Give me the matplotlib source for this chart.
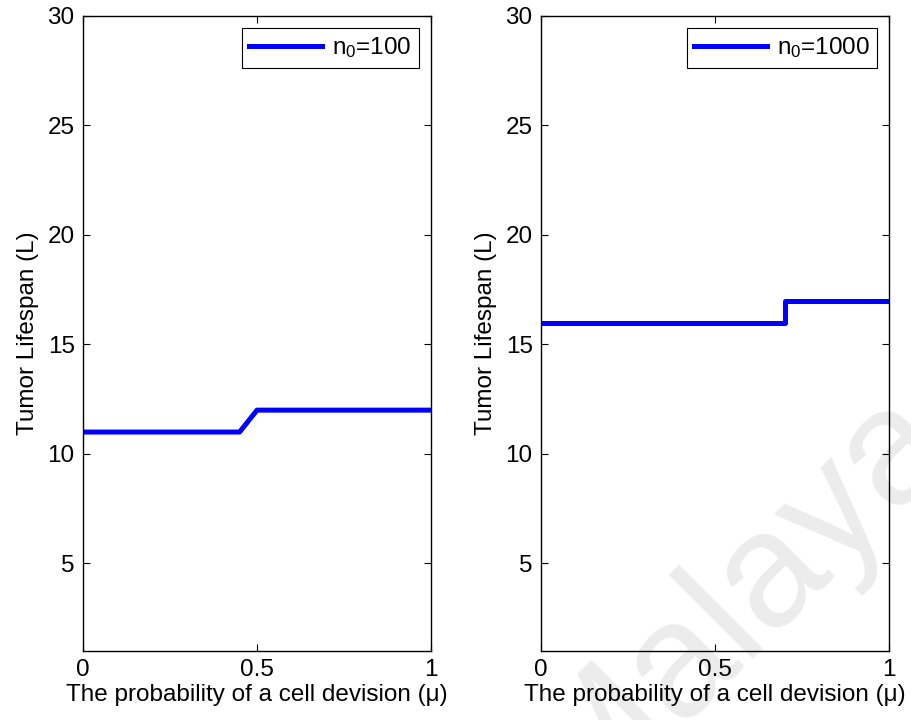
import matplotlib
matplotlib.use("Agg")
import matplotlib.pyplot as plt

plt.rcParams['font.family'] = ['Liberation Sans', 'DejaVu Sans']
plt.rcParams['mathtext.fontset'] = 'custom'
plt.rcParams['mathtext.rm'] = 'Liberation Sans'
plt.rcParams['mathtext.it'] = 'Liberation Sans'

mu_left = [0, 0.45, 0.5, 1]
L_left = [11, 11, 12, 12]
mu_right = [0, 0.7, 0.7, 1]
L_right = [16, 16, 17, 17]
labels = ['n$_\\mathrm{0}$=100', 'n$_\\mathrm{0}$=1000']
xticks = [0, 0.5, 1]
yticks = [5, 10, 15, 20, 25, 30]

W, H = 912, 720
fig = plt.figure(figsize=(W/100, H/100), dpi=100)
fs = 17.5

def px_axes(x0, x1, y0, y1):
    return fig.add_axes([x0/W, 1 - y1/H, (x1 - x0)/W, (y1 - y0)/H])

ax1 = px_axes(83, 431, 16, 651)
ax2 = px_axes(541, 889, 16, 651)

for ax, x, y, lab in [(ax1, mu_left, L_left, labels[0]), (ax2, mu_right, L_right, labels[1])]:
    ax.set_facecolor('none')
    ax.plot(x, y, color='#0000ff', lw=3.6, label=lab, solid_joinstyle='round')
    ax.set_xlim(0, 1)
    ax.set_ylim(1, 30)
    ax.set_xticks(xticks)
    ax.set_xticklabels(['0', '0.5', '1'])
    ax.set_yticks(yticks)
    ax.tick_params(direction='in', length=5, width=0.8, labelsize=fs, top=True, right=True, pad=6)
    for s in ax.spines.values():
        s.set_linewidth(1.0)
    ax.set_xlabel('The probability of a cell devision (μ)', fontsize=fs, labelpad=2)
    ax.set_ylabel('Tumor Lifespan (L)', fontsize=fs, labelpad=6)
    leg = ax.legend(loc='upper right', fontsize=fs, fancybox=False, edgecolor='black',
                    framealpha=1, handlelength=3.0, borderpad=0.3, handletextpad=0.4,
                    borderaxespad=0.5)
    leg.get_frame().set_linewidth(0.8)

fig.text(738/W, 1 - 600/H, 'Malaya', fontsize=118, color='#ececec', rotation=45,
         ha='center', va='center', zorder=-1)

fig.savefig('out.png', dpi=100)
